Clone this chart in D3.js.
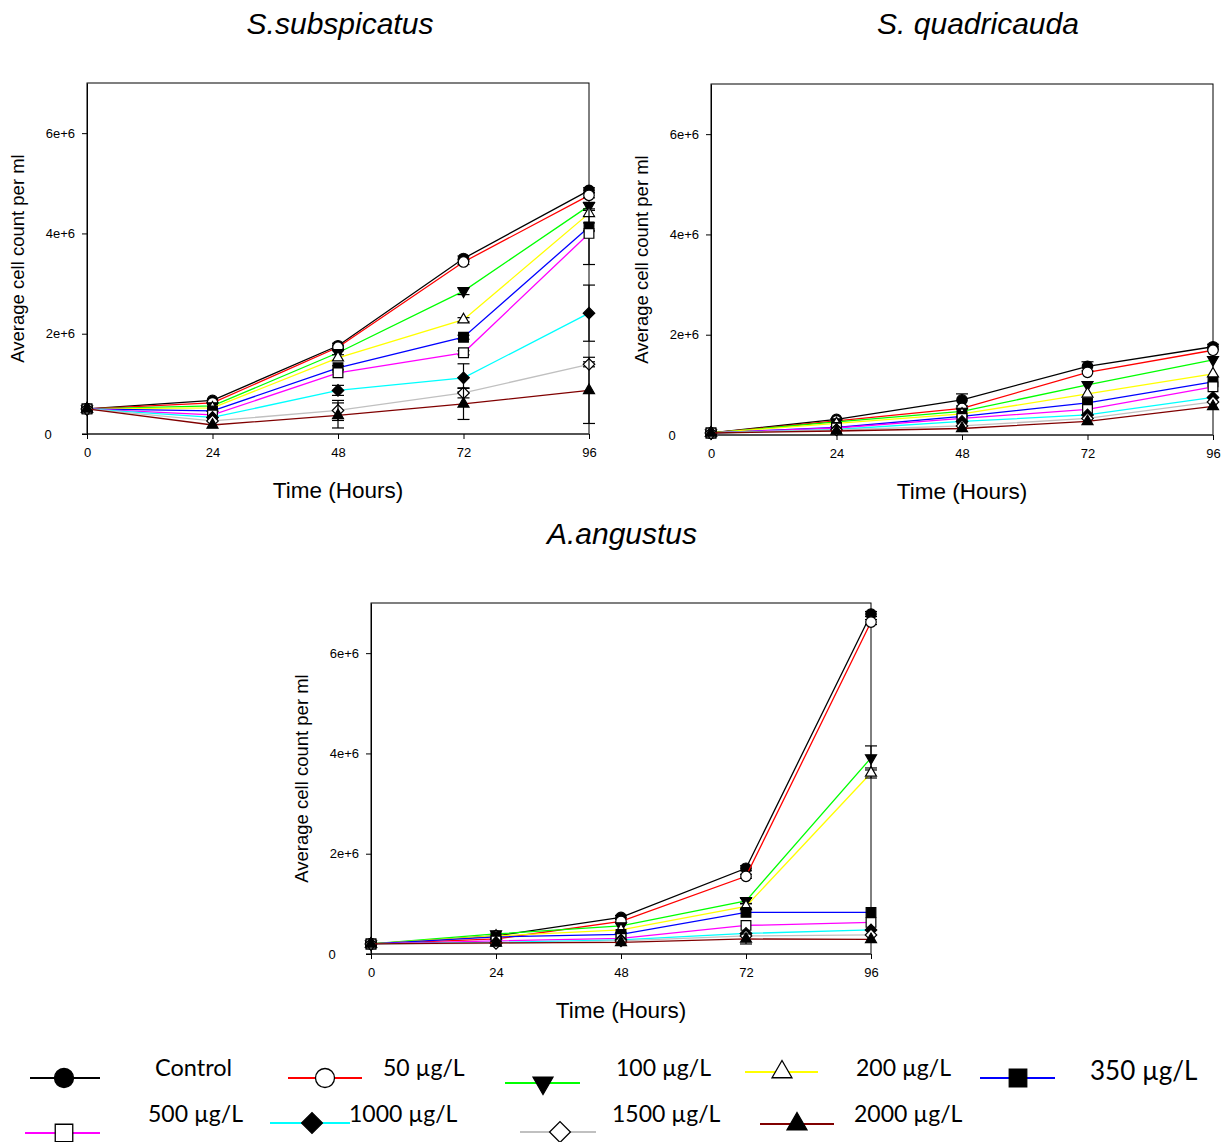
<!DOCTYPE html>
<html>
<head>
<meta charset="utf-8">
<style>
    body { margin: 0; background: #fff; }
    svg text { font-family: "Liberation Sans", Arial, sans-serif; fill: #000; }
    .title { font-style: italic; font-size: 30px; text-anchor: middle; }
    .x-title { font-size: 22.5px; text-anchor: middle; }
    .y-title { font-size: 18.5px; text-anchor: middle; }
    .axis text { font-size: 13px; }
    .axis path, .axis line { stroke: #000; }
    .legend text { font-family: Lato, "Open Sans", sans-serif; font-size: 23px; }
</style>
</head>
<body>
<svg id="chart" width="1227" height="1142"></svg>
<script src="https://d3js.org/d3.v7.min.js"></script>
<script>

    var hours = [0, 24, 48, 72, 96];
    var yTicks = [0, 2e6, 4e6, 6e6];
    var seriesNames = ['Control', '50 µg/L', '100 µg/L', '200 µg/L', '350 µg/L',
                       '500 µg/L', '1000 µg/L', '1500 µg/L', '2000 µg/L'];

    // mean cell counts, millions per ml, one row per series (same order as seriesNames)
    var subspicatusMean = [
        [0.50, 0.67, 1.76, 3.50, 4.86],
        [0.50, 0.62, 1.73, 3.43, 4.76],
        [0.50, 0.56, 1.62, 2.85, 4.55],
        [0.50, 0.52, 1.52, 2.28, 4.40],
        [0.50, 0.46, 1.32, 1.93, 4.13],
        [0.50, 0.38, 1.22, 1.62, 4.00],
        [0.50, 0.33, 0.87, 1.12, 2.41],
        [0.50, 0.26, 0.47, 0.82, 1.39],
        [0.50, 0.18, 0.37, 0.60, 0.87]
    ];
    var subspicatusErr = [
        [0, 0.03, 0.05, 0.05, 0.05],
        [0, 0.02, 0.03, 0.05, 0.05],
        [0, 0.02, 0.04, 0.07, 0.06],
        [0, 0.02, 0.03, 0.04, 0.06],
        [0, 0.02, 0.04, 0.04, 0.08],
        [0, 0.02, 0.03, 0.04, 0.62],
        [0, 0.03, 0.10, 0.28, 0.56],
        [0, 0.02, 0.20, 0.10, 0.05],
        [0, 0.02, 0.25, 0.31, 0.66]
    ];

    var quadricaudaMean = [
        [0.04, 0.31, 0.70, 1.37, 1.76],
        [0.04, 0.28, 0.53, 1.25, 1.69],
        [0.04, 0.26, 0.47, 1.00, 1.50],
        [0.04, 0.23, 0.42, 0.82, 1.22],
        [0.04, 0.15, 0.37, 0.64, 1.06],
        [0.04, 0.14, 0.33, 0.51, 0.96],
        [0.04, 0.11, 0.27, 0.40, 0.75],
        [0.04, 0.10, 0.18, 0.33, 0.66],
        [0.04, 0.08, 0.13, 0.27, 0.57]
    ];
    var quadricaudaErr = [
        [0, 0.02, 0.12, 0.09, 0.05],
        [0, 0.02, 0.03, 0.03, 0.03],
        [0, 0.02, 0.03, 0.03, 0.03],
        [0, 0.02, 0.03, 0.03, 0.03],
        [0, 0.02, 0.03, 0.03, 0.03],
        [0, 0.02, 0.03, 0.03, 0.03],
        [0, 0.02, 0.03, 0.03, 0.03],
        [0, 0.02, 0.03, 0.03, 0.03],
        [0, 0.02, 0.03, 0.03, 0.03]
    ];

    var angustusMean = [
        [0.20, 0.36, 0.73, 1.71, 6.78],
        [0.20, 0.30, 0.65, 1.55, 6.62],
        [0.20, 0.40, 0.56, 1.06, 3.91],
        [0.20, 0.36, 0.48, 0.95, 3.61],
        [0.20, 0.34, 0.39, 0.83, 0.83],
        [0.20, 0.26, 0.31, 0.57, 0.63],
        [0.20, 0.23, 0.28, 0.41, 0.48],
        [0.20, 0.21, 0.26, 0.36, 0.38],
        [0.20, 0.22, 0.23, 0.30, 0.29]
    ];
    var angustusErr = [
        [0, 0.03, 0.04, 0.05, 0.05],
        [0, 0.02, 0.03, 0.04, 0.05],
        [0, 0.03, 0.03, 0.05, 0.24],
        [0, 0.02, 0.02, 0.05, 0.10],
        [0, 0.02, 0.02, 0.03, 0.03],
        [0, 0.02, 0.02, 0.03, 0.03],
        [0, 0.02, 0.02, 0.03, 0.03],
        [0, 0.02, 0.02, 0.03, 0.03],
        [0, 0.02, 0.02, 0.10, 0.03]
    ];

    // styling per series
    var lineColors = ['#000000', '#ff0000', '#00ff00', '#ffff00', '#0000ff',
                      '#ff00ff', '#00ffff', '#c0c0c0', '#800000'];
    var markerShape = ['circle', 'circle', 'down', 'up', 'square', 'square', 'diamond', 'diamond', 'up'];
    var markerFilled = [true, false, true, false, true, false, true, false, true];

    var svg = d3.select('#chart');

    function markerPath(shape, s) {
        // s = nominal width in px
        var type = d3.symbolCircle, area = Math.PI * s * s / 4;
        if (shape === 'square') { type = d3.symbolSquare; area = s * s * 0.85; }
        if (shape === 'diamond') { type = d3.symbolSquare; area = s * s * 0.6; }
        if (shape === 'up' || shape === 'down') { type = d3.symbolTriangle; area = Math.sqrt(3) / 4 * s * s * 1.1; }
        return d3.symbol().type(type).size(area)();
    }
    function markerRotate(shape) {
        if (shape === 'down') return 180;
        if (shape === 'diamond') return 45;
        return 0;
    }

    function drawPanel(means, errs, box, title, titlePos) {
        var x = d3.scaleLinear().domain([0, 96]).range([box.x0, box.x1]);
        var y = d3.scaleLinear().domain([0, 7e6]).range([box.y0, box.y1]);

        svg.append('rect')
            .attr('x', box.x0).attr('y', box.y1)
            .attr('width', box.x1 - box.x0).attr('height', box.y0 - box.y1)
            .style('fill', 'none').style('stroke', '#000').style('stroke-width', 1);

        var xAxis = d3.axisBottom(x).tickValues(hours).tickSize(5).tickPadding(9).tickSizeOuter(0);
        var xG = svg.append('g').attr('class', 'axis')
            .attr('transform', 'translate(0,' + box.y0 + ')')
            .call(xAxis);
        xG.select('.domain')
            .attr('d', 'M' + (box.x0 - 5) + ',0H' + box.x1)
            .style('stroke', '#444').style('stroke-width', 1.3);

        var yAxis = d3.axisLeft(y).tickValues(yTicks).tickSize(5).tickPadding(7).tickSizeOuter(0)
            .tickFormat(function(d) { return d === 0 ? '0' : (d / 1e6) + 'e+6'; });
        var yG = svg.append('g').attr('class', 'axis')
            .attr('transform', 'translate(' + box.x0 + ',0)')
            .call(yAxis);
        yG.selectAll('.tick text')
            .filter(function(d) { return d === 0; })
            .attr('x', -39).style('text-anchor', 'middle');

        svg.append('text').attr('class', 'x-title')
            .attr('x', (box.x0 + box.x1) / 2).attr('y', box.y0 + 64)
            .text('Time (Hours)');
        svg.append('text').attr('class', 'y-title')
            .attr('transform', 'translate(' + (box.x0 - 63) + ',' + ((box.y0 + box.y1) / 2) + ') rotate(-90)')
            .text('Average cell count per ml');
        svg.append('text').attr('class', 'title')
            .attr('x', titlePos[0]).attr('y', titlePos[1])
            .text(title);

        var line = d3.line()
            .x(function(d, i) { return x(hours[i]); })
            .y(function(d) { return y(d * 1e6); });

        means.forEach(function(row, s) {
            var g = svg.append('g');
            g.append('path')
                .attr('d', line(row))
                .style('fill', 'none')
                .style('stroke', lineColors[s])
                .style('stroke-width', 1.3);

            var eb = g.selectAll('.err')
                .data(row.map(function(v, i) { return {v: v, e: errs[s][i], t: hours[i]}; })
                    .filter(function(d) { return d.e > 0.035; }))
                .enter().append('g');
            eb.append('line')
                .attr('x1', function(d) { return x(d.t); }).attr('x2', function(d) { return x(d.t); })
                .attr('y1', function(d) { return y((d.v - d.e) * 1e6); })
                .attr('y2', function(d) { return y((d.v + d.e) * 1e6); })
                .style('stroke', '#000').style('stroke-width', 1.2);
            [-1, 1].forEach(function(sign) {
                eb.append('line')
                    .attr('x1', function(d) { return x(d.t) - 6; }).attr('x2', function(d) { return x(d.t) + 6; })
                    .attr('y1', function(d) { return y((d.v + sign * d.e) * 1e6); })
                    .attr('y2', function(d) { return y((d.v + sign * d.e) * 1e6); })
                    .style('stroke', '#000').style('stroke-width', 1.2);
            });

            g.selectAll('.mk')
                .data(row)
                .enter().append('path')
                .attr('d', markerPath(markerShape[s], 10.5))
                .attr('transform', function(d, i) {
                    return 'translate(' + x(hours[i]) + ',' + y(d * 1e6) + ') rotate(' + markerRotate(markerShape[s]) + ')';
                })
                .style('fill', markerFilled[s] ? '#000' : '#fff')
                .style('stroke', '#000')
                .style('stroke-width', 1.2);
        });
    }

    drawPanel(subspicatusMean, subspicatusErr, {x0: 87, x1: 589, y0: 434, y1: 83}, 'S.subspicatus', [340, 34]);
    drawPanel(quadricaudaMean, quadricaudaErr, {x0: 711, x1: 1213, y0: 435, y1: 84}, 'S. quadricauda', [978, 34]);
    drawPanel(angustusMean, angustusErr, {x0: 371, x1: 871, y0: 954, y1: 603}, 'A.angustus', [622, 544]);

    // legend layout: line start/end, marker centre, text position
    var legendLayout = [
        {l0: 30,  l1: 100, mx: 64,  my: 1078, tx: 155,  ty: 1068, fs: 23.5},
        {l0: 288, l1: 362, mx: 325, my: 1078, tx: 383,  ty: 1068, fs: 23},
        {l0: 505, l1: 580, mx: 543, my: 1083, tx: 616,  ty: 1068, fs: 23},
        {l0: 745, l1: 818, mx: 782, my: 1072, tx: 856,  ty: 1068, fs: 23},
        {l0: 980, l1: 1055, mx: 1018, my: 1078, tx: 1090, ty: 1071, fs: 26},
        {l0: 25,  l1: 100, mx: 64,  my: 1133, tx: 148,  ty: 1114, fs: 23},
        {l0: 270, l1: 350, mx: 312, my: 1123, tx: 349,  ty: 1114, fs: 23},
        {l0: 520, l1: 596, mx: 560, my: 1132, tx: 612,  ty: 1114, fs: 23},
        {l0: 760, l1: 834, mx: 797, my: 1124, tx: 854,  ty: 1114, fs: 23}
    ];

    var legend = svg.append('g').attr('class', 'legend');
    var items = legend.selectAll('.item')
        .data(seriesNames)
        .enter().append('g');
    items.append('line')
        .attr('x1', function(d, i) { return legendLayout[i].l0; })
        .attr('x2', function(d, i) { return legendLayout[i].l1; })
        .attr('y1', function(d, i) { return legendLayout[i].my; })
        .attr('y2', function(d, i) { return legendLayout[i].my; })
        .style('stroke', function(d, i) { return lineColors[i]; })
        .style('stroke-width', 2);
    items.append('path')
        .attr('d', function(d, i) { return markerPath(markerShape[i], 19); })
        .attr('transform', function(d, i) {
            return 'translate(' + legendLayout[i].mx + ',' + legendLayout[i].my + ') rotate(' + markerRotate(markerShape[i]) + ')';
        })
        .style('fill', function(d, i) { return markerFilled[i] ? '#000' : '#fff'; })
        .style('stroke', '#000')
        .style('stroke-width', 1.3);
    items.append('text')
        .attr('x', function(d, i) { return legendLayout[i].tx; })
        .attr('y', function(d, i) { return legendLayout[i].ty; })
        .attr('dy', '0.35em')
        .style('font-size', function(d, i) { return legendLayout[i].fs + 'px'; })
        .text(function(d) { return d; });

</script>
</body>
</html>
